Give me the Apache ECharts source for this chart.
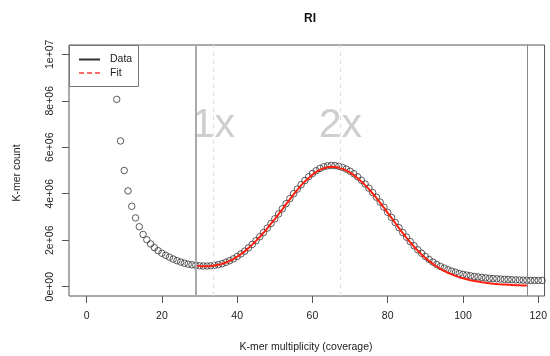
<!DOCTYPE html>
<html>
<head>
<meta charset="utf-8">
<script src="https://cdn.jsdelivr.net/npm/echarts@6/dist/echarts.min.js"></script>
<style>html,body{margin:0;padding:0;background:#fff}#c{width:550px;height:356px}</style>
</head>
<body>
<div id="c"></div>
<script>
// ---- data (values in millions of k-mers) ----
const dataX = [8,9,10,11,12,13,14,15,16,17,18,19,20,21,22,23,24,25,26,27,28,29,30,31,32,33,34,35,36,37,38,39,40,41,42,43,44,45,46,47,48,49,50,51,52,53,54,55,56,57,58,59,60,61,62,63,64,65,66,67,68,69,70,71,72,73,74,75,76,77,78,79,80,81,82,83,84,85,86,87,88,89,90,91,92,93,94,95,96,97,98,99,100,101,102,103,104,105,106,107,108,109,110,111,112,113,114,115,116,117,118,119,120,121];
const dataY = [8.06,6.27,5.00,4.12,3.46,2.96,2.58,2.25,2.02,1.84,1.68,1.55,1.44,1.35,1.27,1.19,1.12,1.06,1.01,0.97,0.94,0.92,0.90,0.89,0.89,0.90,0.92,0.95,0.99,1.05,1.12,1.20,1.30,1.41,1.53,1.67,1.82,1.98,2.15,2.33,2.52,2.72,2.92,3.13,3.35,3.57,3.79,4.00,4.20,4.39,4.57,4.73,4.87,4.99,5.09,5.16,5.20,5.22,5.21,5.18,5.13,5.06,4.97,4.86,4.73,4.58,4.42,4.24,4.05,3.85,3.64,3.42,3.20,2.98,2.76,2.54,2.33,2.13,1.94,1.76,1.59,1.44,1.30,1.17,1.06,0.96,0.87,0.80,0.73,0.67,0.62,0.57,0.53,0.50,0.47,0.44,0.42,0.40,0.38,0.36,0.35,0.34,0.33,0.32,0.31,0.30,0.29,0.29,0.28,0.28,0.27,0.27,0.27,0.27];
const fitX = [29,30,31,32,33,34,35,36,37,38,39,40,41,42,43,44,45,46,47,48,49,50,51,52,53,54,55,56,57,58,59,60,61,62,63,64,65,66,67,68,69,70,71,72,73,74,75,76,77,78,79,80,81,82,83,84,85,86,87,88,89,90,91,92,93,94,95,96,97,98,99,100,101,102,103,104,105,106,107,108,109,110,111,112,113,114,115,116,117];
const fitY = [0.91,0.89,0.88,0.88,0.89,0.91,0.94,0.98,1.04,1.11,1.19,1.29,1.40,1.52,1.66,1.81,1.97,2.14,2.32,2.51,2.71,2.91,3.12,3.33,3.55,3.76,3.97,4.17,4.36,4.53,4.68,4.82,4.94,5.03,5.10,5.14,5.16,5.15,5.12,5.07,5.00,4.91,4.80,4.67,4.53,4.37,4.20,4.01,3.82,3.61,3.40,3.18,2.96,2.74,2.52,2.31,2.10,1.91,1.72,1.55,1.39,1.24,1.10,0.98,0.87,0.77,0.68,0.60,0.53,0.47,0.41,0.36,0.32,0.28,0.25,0.22,0.19,0.17,0.15,0.13,0.12,0.10,0.09,0.08,0.07,0.06,0.06,0.05,0.05];
const rangeLines = [29, 117];          // solid grey lines (min / max coverage)
const peakLines = [33.7, 67.4];        // dashed lines at 1x and 2x
const peakLabels = ['1x', '2x'];
const peakLabelY = 6.94;               // millions
const xTicks = [0,20,40,60,80,100,120];
const yTicks = [0,2e6,4e6,6e6,8e6,1e7];
const titleText = 'RI';
const xTitle = 'K-mer multiplicity (coverage)';
const yTitle = 'K-mer count';
const legendNames = ['Data', 'Fit'];

const M = 1e6;
const FONT = '"Liberation Sans", Arial, Helvetica, sans-serif';
const pts = dataX.map((x,i)=>[x, dataY[i]*M]);
const fit = fitX.map((x,i)=>[x, fitY[i]*M]);
function sci(v){
  if (v === 0) return '0e+00';
  const s = v.toExponential(0);
  const [m,e] = s.split('e');
  const sign = e[0];
  const d = e.slice(1).padStart(2,'0');
  return m + 'e' + sign + d;
}

const chart = echarts.init(document.getElementById('c'), null, {renderer:'canvas'});
chart.setOption({
  animation: false,
  backgroundColor: '#fff',
  textStyle: {fontFamily: FONT},
  grid: {left: 69, right: 2, top: 45, bottom: 60, show: true, borderColor: '#555', borderWidth: 1, backgroundColor: 'transparent'},
  xAxis: {
    type: 'value', min: -4.68, max: 121.68,
    axisLine: {show: false, onZero: false},
    splitLine: {show: false},
    axisTick: {show: true, inside: false, customValues: xTicks, length: 7, lineStyle: {color: '#555'}},
    axisLabel: {customValues: xTicks, margin: 15, fontSize: 10.5, color: '#222', fontFamily: FONT}
  },
  yAxis: {
    type: 'value', min: -0.4e6, max: 10.4e6,
    axisLine: {show: false, onZero: false},
    splitLine: {show: false},
    axisTick: {show: true, inside: false, customValues: yTicks, length: 7, lineStyle: {color: '#555'}},
    axisLabel: {customValues: yTicks, rotate: 90, margin: 13, fontSize: 10.5, color: '#222', fontFamily: FONT, formatter: sci}
  },
  series: [
    {
      type: 'scatter', name: legendNames[0], data: pts, symbol: 'circle', symbolSize: 6.5,
      itemStyle: {color: 'rgba(0,0,0,0)', borderColor: '#333', borderWidth: 1},
      z: 3,
      markLine: {
        silent: true, symbol: 'none', label: {show: false},
        data: [
          {xAxis: rangeLines[0], lineStyle: {color: '#aaa', width: 2, type: 'solid'}},
          {xAxis: rangeLines[1], lineStyle: {color: '#888', width: 1, type: 'solid'}},
          {xAxis: peakLines[0], lineStyle: {color: '#ddd', width: 1, type: [4,4]}},
          {xAxis: peakLines[1], lineStyle: {color: '#ddd', width: 1, type: [4,4]}}
        ]
      }
    },
    {
      type: 'line', name: legendNames[1], data: fit, showSymbol: false, smooth: false,
      lineStyle: {color: '#ff2010', width: 2}, z: 4
    },
    {
      type: 'scatter', name: 'peaks', symbolSize: 0,
      data: peakLines.map((x,i)=>({value:[x, peakLabelY*M], name: peakLabels[i]})),
      label: {show: true, position: 'inside', formatter: p=>p.name, fontSize: 41, color: '#c2c2c2', fontFamily: FONT},
      z: 1
    }
  ],
  graphic: [
    {type: 'text', x: 310, y: 19, style: {text: titleText, x: 0, y: 0, font: 'bold 12px ' + FONT, fill: '#111', textAlign: 'center', textVerticalAlign: 'middle'}},
    {type: 'text', style: {text: xTitle, x: 306, y: 347, font: '10.5px ' + FONT, fill: '#222', textAlign: 'center', textVerticalAlign: 'middle'}},
    {type: 'text', x: 17, y: 173, rotation: Math.PI/2, style: {text: yTitle, x: 0, y: 0, font: '10.5px ' + FONT, fill: '#222', textAlign: 'center', textVerticalAlign: 'middle'}},
    {type: 'rect', shape: {x: 69.5, y: 45.5, width: 69, height: 41}, style: {fill: '#fff', stroke: '#777', lineWidth: 1}, z: 100},
    {type: 'line', shape: {x1: 79, y1: 59.5, x2: 100, y2: 59.5}, style: {stroke: '#333', lineWidth: 2}, z: 101},
    {type: 'line', shape: {x1: 79, y1: 73, x2: 100, y2: 73}, style: {stroke: '#ff6a6a', lineWidth: 2, lineDash: [5,3]}, z: 101},
    {type: 'text', style: {text: legendNames[0], x: 110, y: 59.5, font: '10.5px ' + FONT, fill: '#222', textVerticalAlign: 'middle'}, z: 101},
    {type: 'text', style: {text: legendNames[1], x: 110, y: 73, font: '10.5px ' + FONT, fill: '#222', textVerticalAlign: 'middle'}, z: 101}
  ]
});
</script>
</body>
</html>
